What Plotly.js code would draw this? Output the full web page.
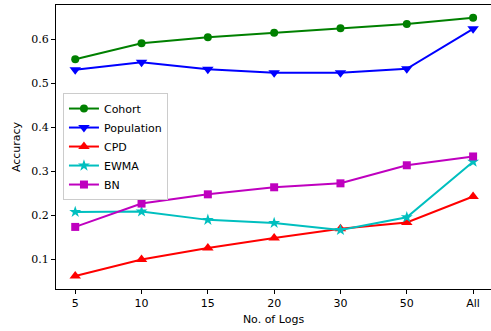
<!DOCTYPE html>
<html><head><meta charset="utf-8">
<script src="https://cdn.plot.ly/plotly-3.0.1.min.js"></script>
<style>html,body{margin:0;padding:0;background:#fff}</style>
</head><body><div id="chart" style="width:491px;height:331px"></div>
<script>
const categories = ["5","10","15","20","30","50","All"];
const cohort = [0.555,0.591,0.605,0.615,0.625,0.635,0.649];
const population = [0.531,0.548,0.532,0.524,0.524,0.533,0.624];
const cpd = [0.0625,0.100,0.126,0.149,0.170,0.184,0.243];
const ewma = [0.208,0.209,0.190,0.183,0.167,0.196,0.322];
const bn = [0.174,0.227,0.248,0.264,0.273,0.314,0.334];
const xi = categories.map((c,i)=>i);
function tr(name, y, color, symbol, size){
  return {x: xi, y: y, name: name, type:'scatter', mode:'lines+markers',
    line:{color:color,width:2}, marker:{color:color,symbol:symbol,size:size}};
}
const data = [
  tr('Cohort', cohort, '#008000', 'circle', 8),
  tr('Population', population, '#0000ff', 'triangle-down', 10),
  tr('CPD', cpd, '#ff0000', 'triangle-up', 10),
  tr('EWMA', ewma, '#00bfbf', 'star', 9),
  tr('BN', bn, '#bf00bf', 'square', 8)
];
const layout = {
  width:491, height:331,
  margin:{l:56, r:0, t:5, b:42},
  paper_bgcolor:'#fff', plot_bgcolor:'#fff',
  showlegend:true,
  legend:{x:0.016, y:0.69, xanchor:'left', yanchor:'top', bgcolor:'rgba(255,255,255,0.8)',
    bordercolor:'#cccccc', borderwidth:1, font:{family:'DejaVu Sans', size:11, color:'#000'},
    tracegroupgap:0, itemwidth:30},
  xaxis:{range:[-0.29,6.27], tickvals:xi, ticktext:categories, showgrid:false, zeroline:false,
    showline:true, linecolor:'#000', linewidth:1, mirror:true, ticks:'outside', ticklen:4, tickcolor:'#000',
    tickfont:{family:'DejaVu Sans', size:11, color:'#000'},
    title:{text:'No. of Logs', font:{family:'DejaVu Sans', size:11, color:'#000'}, standoff:6}},
  yaxis:{range:[0.033,0.678], tickvals:[0.1,0.2,0.3,0.4,0.5,0.6], ticktext:['0.1','0.2','0.3','0.4','0.5','0.6'],
    showgrid:false, zeroline:false, showline:true, linecolor:'#000', linewidth:1, ticks:'outside', ticklen:4, tickcolor:'#000',
    tickfont:{family:'DejaVu Serif', size:11, color:'#000'},
    title:{text:'Accuracy', font:{family:'DejaVu Sans', size:11, color:'#000'}, standoff:8}}
};
Plotly.newPlot('chart', data, layout, {displayModeBar:false});
</script></body></html>
